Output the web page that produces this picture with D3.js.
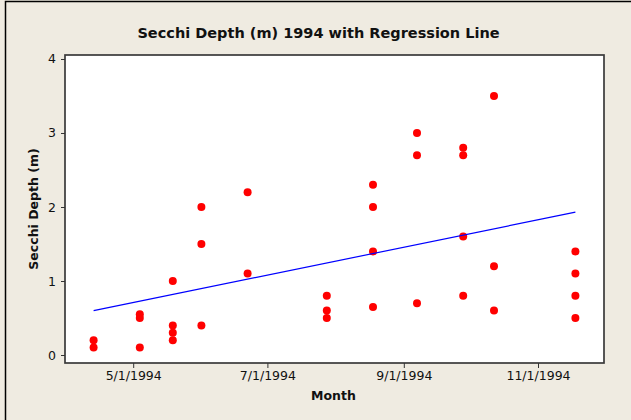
<!DOCTYPE html>
<html>
<head>
<meta charset="utf-8">
<script src="https://cdn.jsdelivr.net/npm/d3@7"></script>
<style>
  html, body { margin: 0; padding: 0; background: #EFEBE1; }
  svg { display: block; }
</style>
</head>
<body>
<script>
// ---- Data ----
const sampleDates = ["1994-04-13", "1994-05-04", "1994-05-19", "1994-06-01", "1994-06-22",
  "1994-07-28", "1994-08-18", "1994-09-07", "1994-09-28", "1994-10-12", "1994-11-18"];
const secchiDepths = [
  [0.2, 0.1],
  [0.55, 0.5, 0.1],
  [1.0, 0.4, 0.3, 0.2],
  [2.0, 1.5, 0.4],
  [2.2, 1.1],
  [0.8, 0.6, 0.5],
  [2.3, 2.0, 1.4, 0.65],
  [3.0, 2.7, 0.7],
  [2.8, 2.7, 1.6, 0.8],
  [3.5, 1.2, 0.6],
  [1.4, 1.1, 0.8, 0.5]
];
const regressionDates = ["1994-04-13", "1994-11-18"];
const regressionValues = [0.6, 1.93];
const xTickDates = ["1994-05-01", "1994-07-01", "1994-09-01", "1994-11-01"];
const xTickLabels = ["5/1/1994", "7/1/1994", "9/1/1994", "11/1/1994"];
const yTickValues = [0, 1, 2, 3, 4];
const xDomainDates = ["1994-03-31", "1994-12-01"];
const yDomainValues = [-0.108, 4.054];

const titleText = "Secchi Depth (m) 1994 with Regression Line";
const xTitle = "Month";
const yTitle = "Secchi Depth (m)";

// ---- Layout ----
const W = 631, H = 420;
const plot = { left: 65, right: 604, top: 55, bottom: 363 };
const parse = d3.utcParse("%Y-%m-%d");

const svg = d3.select("body").append("svg").attr("width", W).attr("height", H);

svg.append("rect").attr("width", W).attr("height", H).attr("fill", "#EFEBE1");
// outer frame (top and left visible)
svg.append("path").attr("d", `M5.5,${H} L5.5,1.5 L${W},1.5`)
  .attr("fill", "none").attr("stroke", "#000").attr("stroke-width", 1.5);

const x = d3.scaleUtc().domain(xDomainDates.map(parse)).range([plot.left, plot.right]);
const y = d3.scaleLinear().domain(yDomainValues).range([plot.bottom, plot.top]);

// plot area
svg.append("rect")
  .attr("x", plot.left).attr("y", plot.top)
  .attr("width", plot.right - plot.left).attr("height", plot.bottom - plot.top)
  .attr("fill", "#fff").attr("stroke", "#3a3a3a").attr("stroke-width", 1.7);

const fontFam = "'DejaVu Sans', Verdana, sans-serif";

// x axis
const xAxis = d3.axisBottom(x)
  .tickValues(xTickDates.map(parse))
  .tickFormat((d, i) => xTickLabels[i])
  .tickSizeOuter(0).tickSize(5).tickPadding(3);
const gx = svg.append("g").attr("transform", `translate(0,${plot.bottom})`).call(xAxis);
gx.select(".domain").remove();
gx.selectAll(".tick line").attr("stroke", "#333");
gx.selectAll(".tick text").attr("fill", "#111").style("font-family", fontFam).style("font-size", "12.5px");

// y axis
const yAxis = d3.axisLeft(y).tickValues(yTickValues).tickFormat(d3.format("d"))
  .tickSizeOuter(0).tickSize(4).tickPadding(5);
const gy = svg.append("g").attr("transform", `translate(${plot.left},0)`).call(yAxis);
gy.select(".domain").remove();
gy.selectAll(".tick line").attr("stroke", "#333");
gy.selectAll(".tick text").attr("fill", "#111").style("font-family", fontFam).style("font-size", "12.5px");

// points
const pts = [];
sampleDates.forEach((d, i) => secchiDepths[i].forEach(v => pts.push({ date: parse(d), value: v })));
svg.append("g").selectAll("circle").data(pts).join("circle")
  .attr("cx", d => x(d.date)).attr("cy", d => y(d.value)).attr("r", 4)
  .attr("fill", "#FF0000");

// regression line
const reg = regressionDates.map((d, i) => ({ date: parse(d), value: regressionValues[i] }));
svg.append("path").datum(reg)
  .attr("d", d3.line().x(d => x(d.date)).y(d => y(d.value)))
  .attr("fill", "none").attr("stroke", "#0000FF").attr("stroke-width", 1.2);

// titles
svg.append("text").attr("x", 318.5).attr("y", 38).attr("text-anchor", "middle")
  .style("font-family", fontFam).style("font-weight", "bold").style("font-size", "14.5px")
  .attr("fill", "#111").text(titleText);
svg.append("text").attr("x", 333.5).attr("y", 400).attr("text-anchor", "middle")
  .style("font-family", fontFam).style("font-weight", "bold").style("font-size", "12.5px")
  .attr("fill", "#111").text(xTitle);
svg.append("text").attr("transform", "translate(38,209) rotate(-90)").attr("text-anchor", "middle")
  .style("font-family", fontFam).style("font-weight", "bold").style("font-size", "12.5px")
  .attr("fill", "#111").text(yTitle);
</script>
</body>
</html>
